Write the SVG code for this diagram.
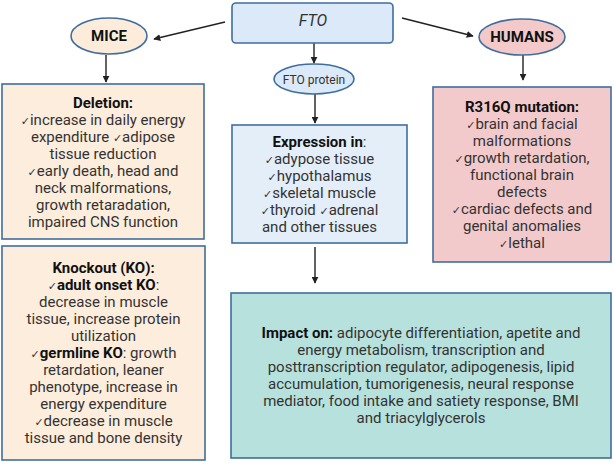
<svg xmlns="http://www.w3.org/2000/svg" width="614" height="465" viewBox="0 0 614 465">
<defs>
<marker id="ah" viewBox="0 0 10 10" refX="9" refY="5" markerWidth="7" markerHeight="7" markerUnits="userSpaceOnUse" orient="auto">
<path d="M0,0 L10,5 L0,10 z" fill="#222"/>
</marker>
<style>
text{font-family:Roboto,"Liberation Sans",sans-serif;font-size:15px;fill:#333;text-anchor:middle}
.b{font-weight:bold;fill:#111}
.ck{font-family:"DejaVu Sans",sans-serif;font-size:11px}
.box{stroke:#3f6e9e;stroke-width:1.6}
.con{stroke:#222;stroke-width:1.4;fill:none;marker-end:url(#ah)}
</style>
</defs>
<rect width="614" height="465" fill="#fff"/>
<g id="connectors">
<line class="con" x1="225" y1="22" x2="154" y2="39"/>
<line class="con" x1="402" y1="18" x2="473" y2="36"/>
<line class="con" x1="314" y1="43" x2="314" y2="63"/>
<line class="con" x1="106" y1="55" x2="106" y2="82"/>
<line class="con" x1="523" y1="55" x2="523" y2="80"/>
<line class="con" x1="315" y1="94" x2="315" y2="123"/>
<line class="con" x1="315" y1="247" x2="315" y2="283"/>
</g>
<g id="fto">
<rect class="box" x="232" y="3" width="161" height="40" rx="4" fill="#dce9f8"/>
<text x="313" y="26" style="font-style:italic;font-size:16px">FTO</text>
</g>
<g id="mice">
<ellipse class="box" cx="109" cy="36" rx="38" ry="18" fill="#fcecd9"/>
<text class="b" x="109" y="41">MICE</text>
</g>
<g id="humans">
<ellipse class="box" cx="522" cy="37" rx="43" ry="18" fill="#f3c9ca"/>
<text class="b" x="522" y="42">HUMANS</text>
</g>
<g id="fto-protein">
<ellipse class="box" cx="314" cy="79" rx="40" ry="15" fill="#dce9f8"/>
<text x="314" y="84" style="font-size:12px">FTO protein</text>
</g>
<g id="deletion">
<rect class="box" x="2" y="84" width="202" height="155" fill="#fdeddd"/>
<text class="b" x="103" y="108">Deletion:</text>
<text x="103" y="125"><tspan class="ck">✓</tspan>increase in daily energy</text>
<text x="103" y="142">expenditure <tspan class="ck">✓</tspan>adipose</text>
<text x="103" y="159">tissue reduction</text>
<text x="103" y="176"><tspan class="ck">✓</tspan>early death, head and</text>
<text x="103" y="193">neck malformations,</text>
<text x="103" y="210">growth retaradation,</text>
<text x="103" y="227">impaired CNS function</text>
</g>
<g id="knockout">
<rect class="box" x="2" y="246" width="203" height="214" fill="#fdeddd"/>
<text class="b" x="103.5" y="273">Knockout (KO):</text>
<text x="103.5" y="290"><tspan class="ck">✓</tspan><tspan class="b">adult onset KO</tspan>:</text>
<text x="103.5" y="307">decrease in muscle</text>
<text x="103.5" y="324">tissue, increase protein</text>
<text x="103.5" y="341">utilization</text>
<text x="103.5" y="358"><tspan class="ck">✓</tspan><tspan class="b">germline KO</tspan>: growth</text>
<text x="103.5" y="375">retardation, leaner</text>
<text x="103.5" y="392">phenotype, increase in</text>
<text x="103.5" y="409">energy expenditure</text>
<text x="103.5" y="426"><tspan class="ck">✓</tspan>decrease in muscle</text>
<text x="103.5" y="443">tissue and bone density</text>
</g>
<g id="expression">
<rect class="box" x="232" y="125" width="175" height="118" fill="#e4eef9"/>
<text x="319.5" y="147"><tspan class="b">Expression in</tspan>:</text>
<text x="319.5" y="164"><tspan class="ck">✓</tspan>adypose tissue</text>
<text x="319.5" y="181"><tspan class="ck">✓</tspan>hypothalamus</text>
<text x="319.5" y="198"><tspan class="ck">✓</tspan>skeletal muscle</text>
<text x="319.5" y="215"><tspan class="ck">✓</tspan>thyroid <tspan class="ck">✓</tspan>adrenal</text>
<text x="319.5" y="232">and other tissues</text>
</g>
<g id="r316q">
<rect class="box" x="433" y="87" width="178" height="175" fill="#f3cacb"/>
<text class="b" x="522" y="112">R316Q mutation:</text>
<text x="522" y="129"><tspan class="ck">✓</tspan>brain and facial</text>
<text x="522" y="146">malformations</text>
<text x="522" y="163"><tspan class="ck">✓</tspan>growth retardation,</text>
<text x="522" y="180">functional brain</text>
<text x="522" y="197">defects</text>
<text x="522" y="214"><tspan class="ck">✓</tspan>cardiac defects and</text>
<text x="522" y="231">genital anomalies</text>
<text x="522" y="248"><tspan class="ck">✓</tspan>lethal</text>
</g>
<g id="impact">
<rect class="box" x="231" y="293" width="380" height="165" fill="#b7e1dd"/>
<text x="421" y="338"><tspan class="b">Impact on:</tspan> adipocyte differentiation, apetite and</text>
<text x="421" y="355">energy metabolism, transcription and</text>
<text x="421" y="372">posttranscription regulator, adipogenesis, lipid</text>
<text x="421" y="389">accumulation, tumorigenesis, neural response</text>
<text x="421" y="406">mediator, food intake and satiety response, BMI</text>
<text x="421" y="423">and triacylglycerols</text>
</g>
</svg>
